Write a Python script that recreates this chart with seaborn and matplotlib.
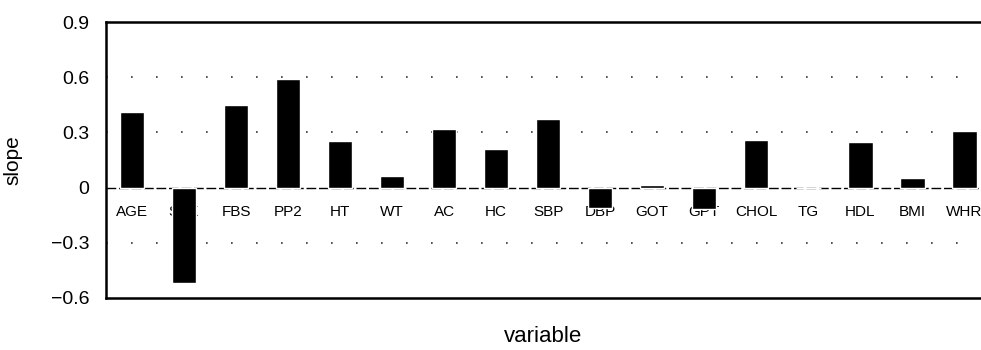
import matplotlib
matplotlib.use("Agg")
import matplotlib.pyplot as plt
import seaborn as sns

# values
variables = ["AGE", "SEX", "FBS", "PP2", "HT", "WT", "AC", "HC", "SBP",
             "DBP", "GOT", "GPT", "CHOL", "TG", "HDL", "BMI", "WHR"]
slopes = [0.41, -0.52, 0.45, 0.59, 0.255, 0.06, 0.32, 0.21, 0.37,
          -0.11, 0.015, -0.115, 0.26, 0.0, 0.245, 0.05, 0.305]
yticks = [0.9, 0.6, 0.3, 0, -0.3, -0.6]
ytick_labels = ["0.9", "0.6", "0.3", "0", "\u22120.3", "\u22120.6"]

sns.set_style("white")
plt.rcParams["font.family"] = ["Liberation Sans", "DejaVu Sans"]
plt.rcParams["text.color"] = "black"
plt.rcParams["axes.labelcolor"] = "black"
plt.rcParams["ytick.color"] = "black"

fig = plt.figure(figsize=(9.81, 3.5), dpi=100)
ax = fig.add_axes([0.108, 0.149, 0.892, 0.788])

sns.barplot(x=variables, y=slopes, color="black", width=0.47,
            saturation=1, ax=ax, zorder=3)

# dotted grid lines
for y in [0.6, 0.3, -0.3]:
    ax.axhline(y, color="#333333", lw=1.2, ls=(0, (1, 14)), zorder=1)
ax.axhline(0, color="black", lw=1.0, ls=(0, (7, 2)), zorder=2)

# category names sit just below the zero line
for i, name in enumerate(variables):
    ax.text(i, -0.135, name, ha="center", va="center", fontsize=11,
            color="black", zorder=2)

ax.set_xlim(-0.5, 16.32)
ax.set_ylim(-0.6, 0.9)
ax.set_yticks(yticks)
ax.set_yticklabels(ytick_labels, fontsize=14)
ax.set_xticks([])
ax.tick_params(axis="y", length=0, pad=12)

for side in ["left", "top", "bottom"]:
    ax.spines[side].set_visible(True)
    ax.spines[side].set_linewidth(1.8)
    ax.spines[side].set_color("black")
ax.spines["right"].set_visible(False)

ax.set_xlabel("variable", fontsize=16, labelpad=20)
ax.set_ylabel("slope", fontsize=15)
ax.yaxis.set_label_coords(-0.096, 0.5)

fig.savefig("out.png", dpi=100)
